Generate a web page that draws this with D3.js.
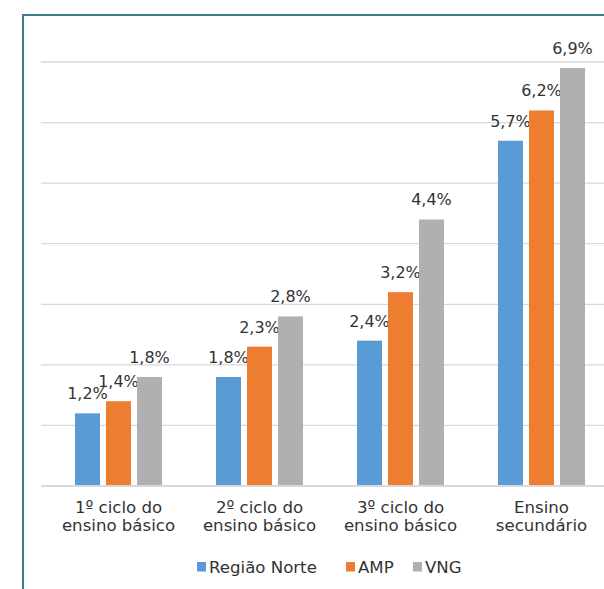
<!DOCTYPE html>
<html><head><meta charset="utf-8">
<script src="https://cdn.jsdelivr.net/npm/d3@7"></script>
<style>body{margin:0;background:#fff}svg{display:block}</style>
</head><body>
<svg id="c" width="604" height="589"></svg>
<script>
const categories = [["1º ciclo do","ensino básico"],["2º ciclo do","ensino básico"],["3º ciclo do","ensino básico"],["Ensino","secundário"]];
const seriesNames = ["Região Norte","AMP","VNG"];
const regiaoNorte = [1.2,1.8,2.4,5.7];
const amp = [1.4,2.3,3.2,6.2];
const vng = [1.8,2.8,4.4,6.9];
const yTicks = [0,1,2,3,4,5,6,7];
const colors = ["#5B9BD5","#ED7D31","#B0B0B1"];
const series = [regiaoNorte, amp, vng];

const svg = d3.select("#c");
const font = "'DejaVu Sans', Verdana, sans-serif";
const fs = 16;
const fs2 = 16.6;
const textColor = "#333333";

// frame
svg.append("path").attr("d","M23,589 V15 H604").attr("fill","none").attr("stroke","#3f7a8f").attr("stroke-width",2);

const y = d3.scaleLinear().domain([0,7]).range([486,62]);
const x0 = d3.scaleBand().domain(d3.range(4)).range([48,612]);
const x1 = d3.scaleBand().domain(d3.range(3)).range([0,87]).paddingInner(6/31);
const groupOffset = (x0.bandwidth()-87)/2;

// gridlines
svg.append("g").selectAll("line").data(yTicks.slice(1)).join("line")
  .attr("x1",41).attr("x2",604).attr("y1",d=>y(d)).attr("y2",d=>y(d))
  .attr("stroke","#d9d9d9").attr("stroke-width",1.3);

// bars
const g = svg.append("g");
series.forEach((vals,si)=>{
  g.selectAll(null).data(vals).join("rect")
    .attr("x",(d,i)=>x0(i)+groupOffset+x1(si))
    .attr("width",x1.bandwidth())
    .attr("y",d=>y(d)).attr("height",d=>y(0)-y(d))
    .attr("fill",colors[si]);
  g.selectAll(null).data(vals).join("text")
    .attr("x",(d,i)=>x0(i)+groupOffset+x1(si)+x1.bandwidth()/2)
    .attr("y",d=>y(d)-14)
    .attr("text-anchor","middle").attr("font-family",font).attr("font-size",fs).attr("fill",textColor)
    .text(d=>d3.format(".1f")(d).replace(".",",")+"%");
});

// baseline
svg.append("line").attr("x1",41).attr("x2",604).attr("y1",y(0)).attr("y2",y(0)).attr("stroke","#d9d9d9").attr("stroke-width",2);

// category labels
const cl = svg.append("g");
categories.forEach((lines,i)=>{
  const t = cl.append("text").attr("text-anchor","middle").attr("font-family",font).attr("font-size",fs2).attr("fill",textColor);
  lines.forEach((ln,j)=>t.append("tspan").attr("x",x0(i)+x0.bandwidth()/2).attr("y",513+j*18).text(ln));
});

// legend
const legX = [197,346,413];
const lg = svg.append("g");
seriesNames.forEach((n,i)=>{
  lg.append("rect").attr("x",legX[i]).attr("y",562).attr("width",9).attr("height",9.5).attr("fill",colors[i]);
  lg.append("text").attr("x",legX[i]+12).attr("y",573).attr("font-family",font).attr("font-size",fs2).attr("fill",textColor).text(n);
});
</script>
</body></html>
